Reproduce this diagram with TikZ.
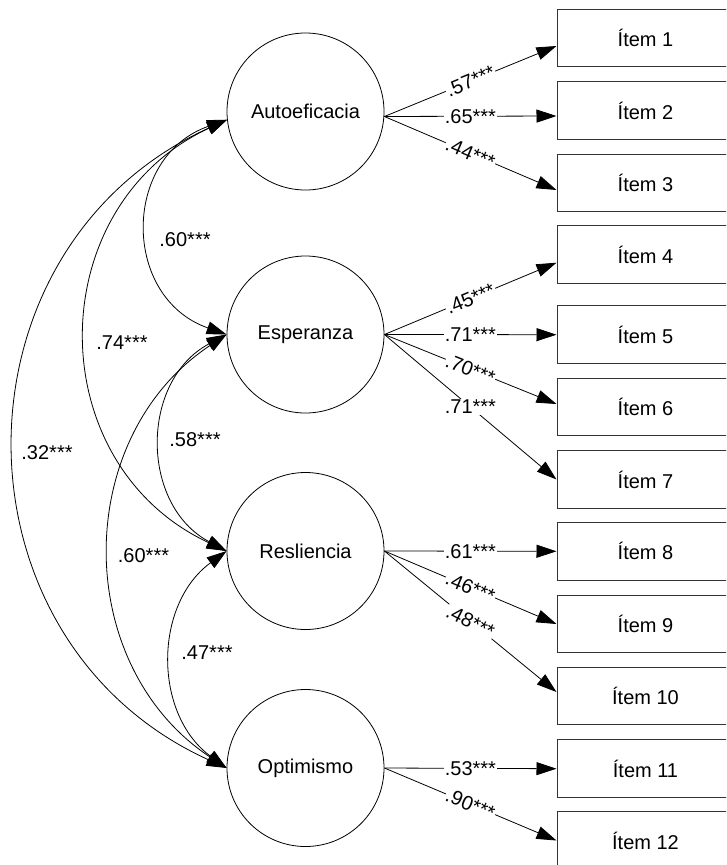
\documentclass[tikz,border=0pt]{standalone}
\usepackage{fontspec}
\setmainfont{Liberation Sans}
\usetikzlibrary{arrows.meta}
\begin{document}
\begin{tikzpicture}[x=1pt,y=-1pt,
  every node/.style={font=\fontsize{20}{23}\selectfont},
  latent/.style={draw, circle, minimum size=157pt, inner sep=0pt, line width=0.8pt},
  item/.style={draw=black!80, rectangle, minimum width=177pt, minimum height=57.5pt, inner sep=0pt, line width=1pt},
  tipA/.style={-{Triangle[length=20pt,width=13pt]}},
  load/.style={tipA, line width=0.8pt},
  cov/.style={{Triangle[length=20pt,width=13pt]}-{Triangle[length=20pt,width=13pt]}, line width=0.8pt},
  lbl/.style={fill=white, inner sep=1pt},
  clbl/.style={inner sep=1pt}
]
\clip (0,0) rectangle (726,865);

% latent factors
\node[latent] (a) at (305.5,111.5) {Autoeficacia};
\node[latent] (e) at (305.5,334.5) {Esperanza};
\node[latent] (r) at (305.5,551) {Resliencia};
\node[latent] (o) at (305.5,768) {Optimismo};

% items
\node[item] (i1)  at (645.5,38)    {Ítem 1};
\node[item] (i2)  at (645.5,110.5) {Ítem 2};
\node[item] (i3)  at (645.5,183)   {Ítem 3};
\node[item] (i4)  at (645.5,254.7) {Ítem 4};
\node[item] (i5)  at (645.5,334.7) {Ítem 5};
\node[item] (i6)  at (645.5,407)   {Ítem 6};
\node[item] (i7)  at (645.5,479.5) {Ítem 7};
\node[item] (i8)  at (645.5,551.3) {Ítem 8};
\node[item] (i9)  at (645.5,624)   {Ítem 9};
\node[item] (i10) at (645.5,696)   {Ítem 10};
\node[item] (i11) at (645.5,768.7) {Ítem 11};
\node[item] (i12) at (645.5,840.5) {Ítem 12};

% loadings
\draw[load] ([yshift=-5pt]a.east) -- node[lbl, sloped] (l1) {.57***} ([yshift=-8pt]i1.west);
\draw[load] ([yshift=-5pt]a.east) -- node[lbl] (l2) {.65***} ([yshift=-5.5pt]i2.west);
\draw[load] ([yshift=-5pt]a.east) -- node[lbl, sloped] (l3) {.44***} ([yshift=-7pt]i3.west);
\draw[load] (e.east) -- node[lbl, sloped] (l4) {.45***} ([yshift=-8pt]i4.west);
\draw[load] (e.east) -- node[lbl] (l5) {.71***} (i5.west);
\draw[load] (e.east) -- node[lbl, sloped] (l6) {.70***} ([yshift=3pt]i6.west);
\draw[load] (e.east) -- node[lbl] (l7) {.71***} (i7.west);
\draw[load] (r.east) -- node[lbl] (l8) {.61***} (i8.west);
\draw[load] (r.east) -- node[lbl, sloped] (l9) {.46***} (i9.west);
\draw[load] (r.east) -- node[lbl, rotate=-27] (l10) {.48***} ([yshift=4pt]i10.west);
\draw[load] (o.east) -- node[lbl] (l11) {.53***} (i11.west);
\draw[load] (o.east) -- node[lbl, sloped] (l12) {.90***} (i12.west);

% covariances
\draw[cov] (a.186) .. controls +(-105.3,37) and +(-105.3,-37) .. (e.west);
\draw[cov] (a.186) .. controls +(-186.7,87.1) and +(-186.7,-87.1) .. (r.west);
\draw[cov] (a.186) .. controls +(-281.7,128.1) and +(-281.7,-128.1) .. (o.west);
\draw[cov] (e.west) .. controls +(-86.7,46.1) and +(-86.7,-46.1) .. (r.west);
\draw[cov] (e.west) .. controls +(-155.1,102.9) and +(-155.1,-102.9) .. (o.west);
\draw[cov] (r.west) .. controls +(-73.3,53.7) and +(-73.3,-53.7) .. (o.west);

\node[clbl] (c1) at (185,240) {.60***};
\node[clbl] (c2) at (122,343) {.74***};
\node[clbl] (c3) at (47,453) {.32***};
\node[clbl] (c4) at (195,440) {.58***};
\node[clbl] (c5) at (143.5,556) {.60***};
\node[clbl] (c6) at (207,653) {.47***};
\end{tikzpicture}
\end{document}
